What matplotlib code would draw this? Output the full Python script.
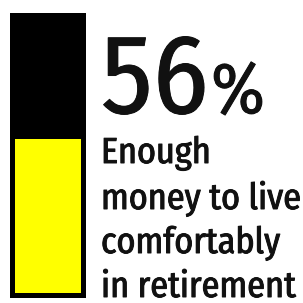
import matplotlib
matplotlib.use("Agg")
import matplotlib.pyplot as plt
import matplotlib.patheffects as pe

# データ
share = 56
label_lines = ["Enough", "money to live", "comfortably", "in retirement"]

W = H = 303.0
fig = plt.figure(figsize=(W / 100, H / 100), dpi=100)

# バー（黒地に黄色で割合を表示）
ax = fig.add_axes([10 / W, 5 / H, 76 / W, 285 / H])
ax.set_facecolor("black")
pad = 5 / 275 * 100
ax.bar(0, share, width=66 / 76, color="#ffff00", align="center")
ax.bar(0, 100 - share, bottom=share, width=66 / 76, color="black", align="center")
ax.set_xlim(-0.5, 0.5)
ax.set_ylim(-pad, 100 + pad)
ax.set_xticks([])
ax.set_yticks([])
for s in ax.spines.values():
    s.set_visible(False)

font = ["Fira Sans Condensed", "DejaVu Sans"]
thick = [pe.Stroke(linewidth=0.7, foreground="#111111"), pe.Normal()]

# 数字
fig.text(101 / W, (H - 113) / H, str(share), fontsize=81, family=font,
         ha="left", va="baseline", color="#111111", path_effects=thick)
fig.text(211 / W, (H - 113) / H, "%", fontsize=52, family=font,
         ha="left", va="baseline", color="#111111", path_effects=thick)

# 説明文
baselines = [163, 209, 253, 297]
for line, b in zip(label_lines, baselines):
    fig.text(101 / W, (H - b) / H, line, fontsize=26, family=font,
             ha="left", va="baseline", color="#111111", path_effects=thick)

fig.savefig("out.png", dpi=100)
